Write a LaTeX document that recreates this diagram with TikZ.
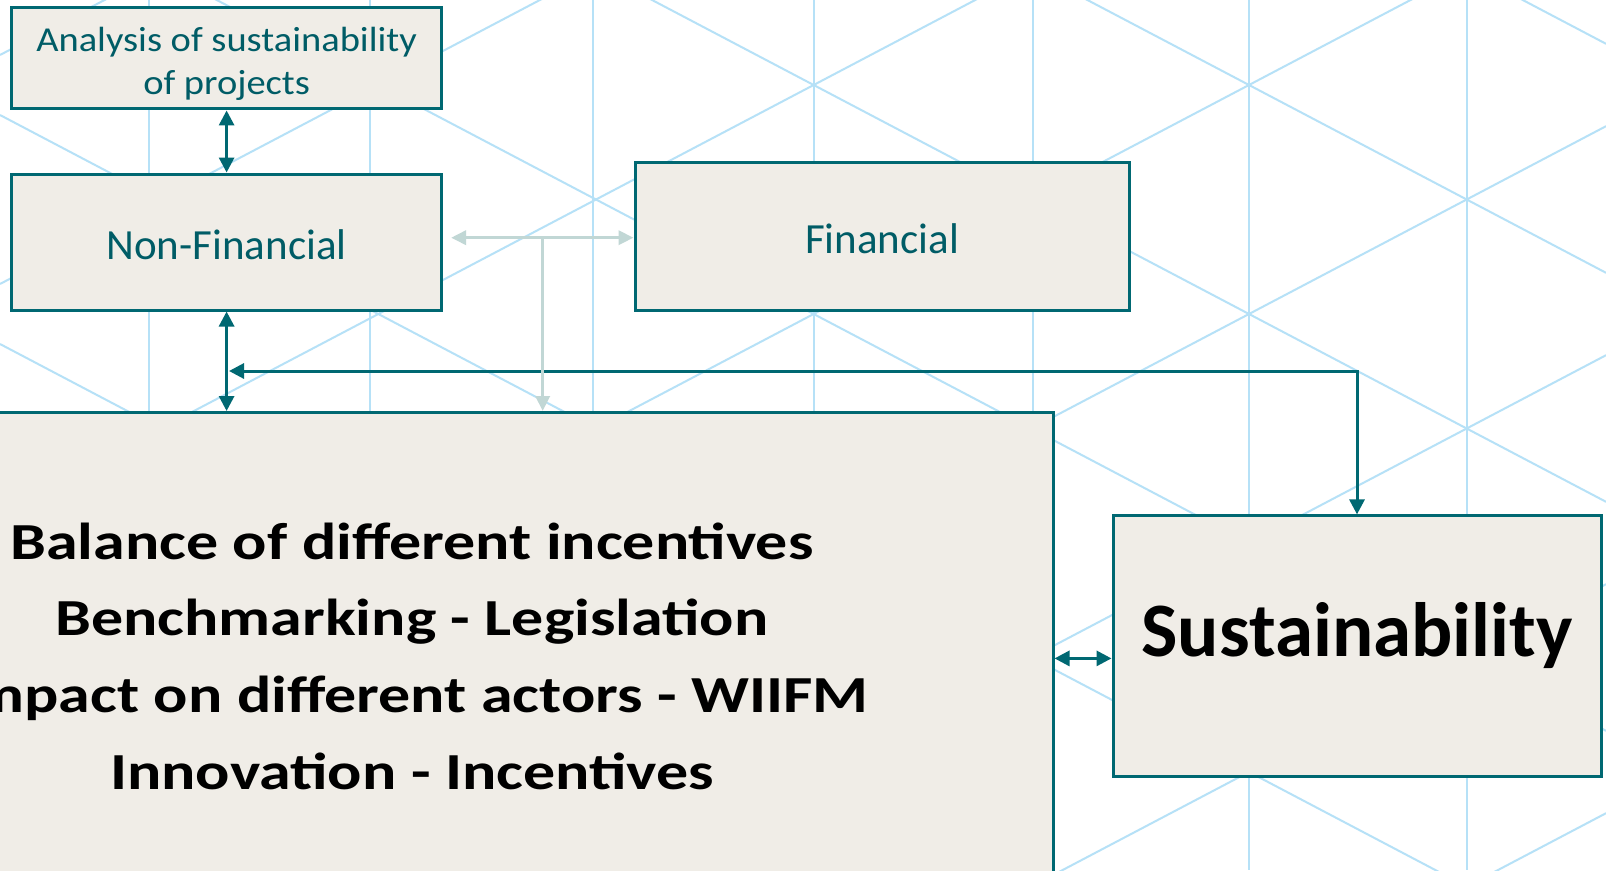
\documentclass[tikz,border=0pt]{standalone}
\usepackage{fontspec}
\setmainfont{Carlito}
\newfontfamily\wideA{Carlito}[FakeStretch=1.1]
\newfontfamily\wideB{Carlito}[FakeStretch=1.23]
\usetikzlibrary{arrows.meta, positioning}

\definecolor{boxteal}{RGB}{0,104,114}
\definecolor{textteal}{RGB}{0,92,102}
\definecolor{boxfill}{RGB}{240,237,231}
\definecolor{linkgray}{RGB}{193,215,213}
\definecolor{gridblue}{RGB}{182,225,247}

\begin{document}
\begin{tikzpicture}[x=1pt, y=-1pt,
    box/.style={rectangle, draw=boxteal, line width=3pt, fill=boxfill, text=textteal, align=center, inner sep=0pt},
    bigbox/.style={box, text=black},
    grid/.style={gridblue, line width=2pt},
    arrow/.style={>={Triangle[length=15pt, width=15pt]}, <->, line width=3pt, draw=boxteal},
    lightarrow/.style={>={Triangle[length=15pt, width=14pt]}, line width=3.5pt, draw=linkgray}
]

    % Page and background grid
    \useasboundingbox (0,0) rectangle (1606,870);
    \fill[white] (0,0) rectangle (1606,870);
    \begin{scope}
        \clip (0,0) rectangle (1606,870);
        \foreach \gx in {148.7, 370, 593.3, 814, 1033.3, 1249, 1466.7}
            \draw[grid] (\gx,0) -- (\gx,870);
        \foreach \k in {-3,...,6} {
            \draw[grid] (0,{-572+229*\k}) -- (1606,{272.8+229*\k});
            \draw[grid] (0,{742+229*\k}) -- (1606,{-102.8+229*\k});
        }
    \end{scope}

    % Boxes
    \node[box, minimum width=430pt, minimum height=101.5pt, font=\wideA\fontsize{35}{43}\selectfont] (analysis) at (226.6,58.2) {\rule{0pt}{35pt}Analysis of sustainability\\of projects};
    \node[box, minimum width=430pt, minimum height=136pt, text height=34.6pt, font=\fontsize{43}{50}\selectfont] (nonfin) at (226.6,242) {Non-Financial};
    \node[box, minimum width=494pt, minimum height=148pt, text height=36pt, font=\fontsize{43}{50}\selectfont] (financial) at (882,236) {Financial};
    \node[bigbox, minimum width=1282pt, minimum height=487pt, font=\wideB\bfseries\fontsize{52}{76.7}\selectfont] (balance) at (412,656)
        {Balance of different incentives\\Benchmarking - Legislation\\Impact on different actors - WIIFM\\Innovation - Incentives};
    \node[bigbox, minimum width=488pt, minimum height=261pt, text depth=33pt, font=\bfseries\fontsize{77}{90}\selectfont] (sustain) at (1357,646.4) {Sustainability};

    % Teal links
    \coordinate (hub) at (229,371);
    \draw[arrow] (analysis) -- (nonfin);
    \draw[arrow] (nonfin.south) -- (nonfin.south |- balance.north);
    \draw[arrow] (hub) -| (sustain.north);
    \draw[arrow] ([yshift=-12pt]sustain.west -| balance.east) -- ([yshift=-12pt]sustain.west);

    % Grey links
    \coordinate (split) at (542.7,237.7);
    \coordinate (nfgap) at ([xshift=8pt]nonfin.east);
    \draw[lightarrow, <->] (nfgap |- split) -- (financial.west |- split);
    \draw[lightarrow, ->] (split) -- (split |- balance.north);

\end{tikzpicture}
\end{document}
